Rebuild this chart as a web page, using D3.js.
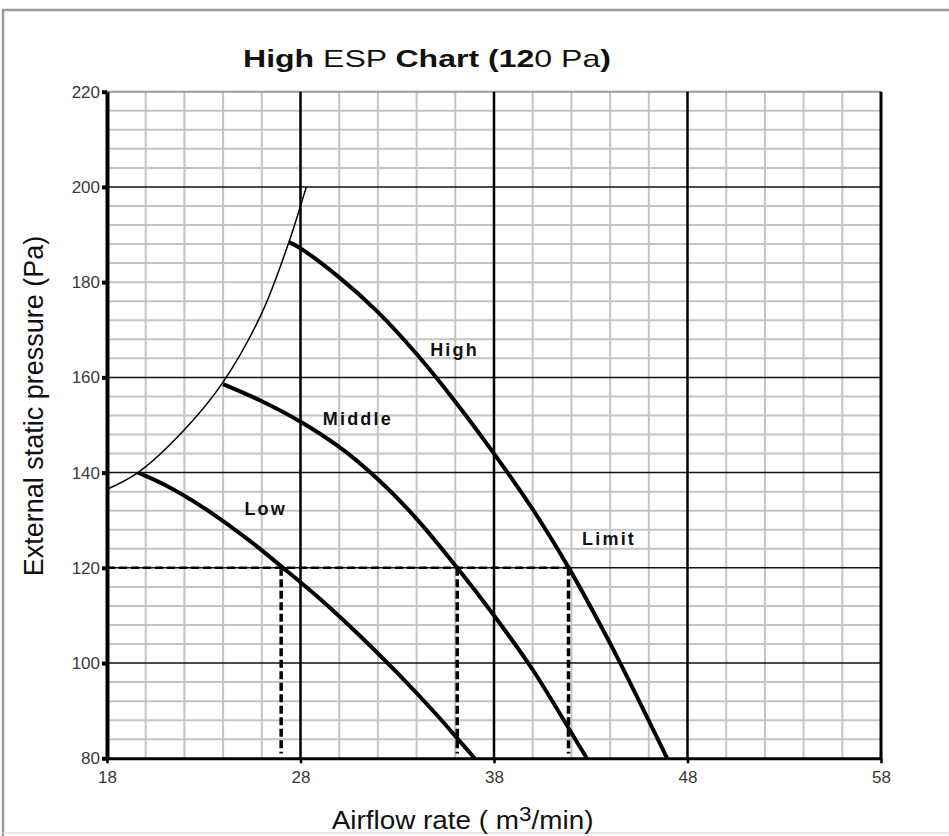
<!DOCTYPE html>
<html>
<head>
<meta charset="utf-8">
<script src="https://cdn.jsdelivr.net/npm/d3@7/dist/d3.min.js"></script>
<style>
  html, body { margin: 0; padding: 0; background: #fff; }
  svg { display: block; }
  text { font-family: "Liberation Sans", Arial, sans-serif; }
</style>
</head>
<body>
<svg id="chart" width="949" height="836"></svg>
<script>
// ---------------- data ----------------
const xTicks = [18, 28, 38, 48, 58];
const yTicks = [80, 100, 120, 140, 160, 180, 200, 220];
const yMajorLines = [100, 120, 140, 160, 200];

// fan operating boundary (thin line)
const boundaryX = [18, 19.6, 22, 24, 26, 27.4, 28, 28.3];
const boundaryY = [136.5, 140, 149, 159, 173.5, 188.4, 196, 200];

// fan curves
const lowX = [19.6, 21, 23, 25.4, 27.1, 29, 31, 33.1, 35, 36.25, 37];
const lowY = [140, 137.4, 132.6, 125.6, 120, 113.5, 106, 97.5, 89.3, 83.5, 80];

const midX = [24, 26, 28, 30, 32, 34, 36.1, 38, 40, 42.2, 42.8];
const midY = [158.6, 155, 150.7, 145.4, 138.6, 130.3, 120, 110, 98.6, 84, 80];

const highX = [27.4, 28, 30, 32, 34, 36, 38, 40, 41.85, 43.1, 44.4, 46.95];
const highY = [188.4, 187.1, 181, 173.7, 164.9, 154.9, 144, 132.3, 120.1, 111, 101, 80];

// ESP limit reference
const espLimit = 120;
const limitX = [27.0, 36.1, 41.85];
const limitBottom = 81;

// curve labels (data coordinates of text start / baseline)
const labelNames = ["Low", "Middle", "High", "Limit"];
const labelX = [25.1, 29.15, 34.7, 42.55];
const labelY = [131.1, 150.0, 164.5, 124.8];

// ---------------- chart ----------------
const svg = d3.select("#chart");
const x = d3.scaleLinear().domain([18, 58]).range([107, 881]);
const y = d3.scaleLinear().domain([80, 220]).range([758.3, 91.7]);

// frame
svg.append("path")
  .attr("d", "M3,836 L3,10 L949,10")
  .attr("fill", "none").attr("stroke", "#9a9a9a").attr("stroke-width", 2.5);
svg.append("line").attr("x1", 3).attr("x2", 949).attr("y1", 833).attr("y2", 833)
  .attr("stroke", "#e2e2e2").attr("stroke-width", 1.5);

// minor grid
const g = svg.append("g");
const minorX = d3.range(20, 58, 2).filter(v => (v - 18) % 10 !== 0);
const minorY = d3.range(84, 220, 4).filter(v => !yMajorLines.includes(v));
g.selectAll("line.mx").data(minorX).join("line")
  .attr("x1", d => x(d)).attr("x2", d => x(d))
  .attr("y1", y(220)).attr("y2", y(80))
  .attr("stroke", "#c4c4c4").attr("stroke-width", 2);
g.selectAll("line.my").data(minorY).join("line")
  .attr("y1", d => y(d)).attr("y2", d => y(d))
  .attr("x1", x(18)).attr("x2", x(58))
  .attr("stroke", "#c4c4c4").attr("stroke-width", 2);
// top border (gray)
g.append("line").attr("x1", x(18)).attr("x2", x(58)).attr("y1", y(220)).attr("y2", y(220))
  .attr("stroke", "#9a9a9a").attr("stroke-width", 2);
// major grid
g.selectAll("line.My").data(yMajorLines).join("line")
  .attr("y1", d => y(d)).attr("y2", d => y(d))
  .attr("x1", x(18)).attr("x2", x(58))
  .attr("stroke", "#111").attr("stroke-width", 1.5);
g.selectAll("line.Mx").data(xTicks.slice(1, -1)).join("line")
  .attr("x1", d => x(d)).attr("x2", d => x(d))
  .attr("y1", y(220)).attr("y2", y(80))
  .attr("stroke", "#000").attr("stroke-width", 2.5);
// right border
g.append("line").attr("x1", x(58)).attr("x2", x(58)).attr("y1", y(220)).attr("y2", y(80))
  .attr("stroke", "#000").attr("stroke-width", 3);

// curves
const line = d3.line().x(d => x(d[0])).y(d => y(d[1])).curve(d3.curveCatmullRom.alpha(0.5));
const zip = (a, b) => a.map((v, i) => [v, b[i]]);
svg.append("path").datum(zip(boundaryX, boundaryY)).attr("d", line)
  .attr("fill", "none").attr("stroke", "#000").attr("stroke-width", 1.5);
[[lowX, lowY], [midX, midY], [highX, highY]].forEach(([a, b]) => {
  svg.append("path").datum(zip(a, b)).attr("d", line)
    .attr("fill", "none").attr("stroke", "#000").attr("stroke-width", 4);
});

// dashed ESP limit lines
svg.append("line")
  .attr("x1", x(18)).attr("x2", x(d3.max(limitX)))
  .attr("y1", y(espLimit)).attr("y2", y(espLimit))
  .attr("stroke", "#000").attr("stroke-width", 2.5).attr("stroke-dasharray", "8,4");
svg.selectAll("line.lim").data(limitX).join("line")
  .attr("x1", d => x(d)).attr("x2", d => x(d))
  .attr("y1", y(espLimit)).attr("y2", y(limitBottom))
  .attr("stroke", "#000").attr("stroke-width", 3.5).attr("stroke-dasharray", "8,3.5");

// axes
const yAxis = d3.axisLeft(y).tickValues(yTicks).tickFormat(d3.format("d"))
  .tickSize(5).tickSizeOuter(0).tickPadding(2);
const ya = svg.append("g").attr("transform", `translate(${x(18)},0)`).call(yAxis);
ya.attr("font-size", null).attr("font-family", null);
ya.select(".domain").attr("stroke", "#000").attr("stroke-width", 4);
ya.selectAll(".tick line").attr("stroke", "#000").attr("stroke-width", 4);
ya.selectAll(".tick text").style("font-size", "17px").attr("fill", "#3a3a3a");

const xAxis = d3.axisBottom(x).tickValues(xTicks).tickFormat(d3.format("d"))
  .tickSize(5).tickSizeOuter(0).tickPadding(8);
const xa = svg.append("g").attr("transform", `translate(0,${y(80)})`).call(xAxis);
xa.attr("font-size", null).attr("font-family", null);
xa.select(".domain").attr("stroke", "#000").attr("stroke-width", 3);
xa.selectAll(".tick line").attr("stroke", "#000").attr("stroke-width", 2.5);
xa.selectAll(".tick text").style("font-size", "17px").attr("fill", "#3a3a3a");

// curve labels
svg.selectAll("text.lbl").data(labelNames).join("text")
  .attr("x", (d, i) => x(labelX[i])).attr("y", (d, i) => y(labelY[i]))
  .attr("font-size", 18).attr("font-weight", "bold").attr("letter-spacing", 2.2)
  .attr("fill", "#111").text(d => d);

// title with mixed weights
const title = svg.append("text").attr("font-size", 24).attr("fill", "#111");
[["High", "bold"], [" ESP ", "normal"], ["Chart (12", "bold"], ["0 Pa", "normal"], [")", "bold"]]
  .forEach(([t, w]) => title.append("tspan").attr("font-weight", w).text(t));
{
  const w = title.node().getComputedTextLength();
  const target = 368, left = 243;
  title.attr("transform", `translate(${left},66.7) scale(${target / w},1)`);
}

// y axis title
svg.append("text")
  .attr("transform", "translate(42.7,406) rotate(-90)")
  .attr("text-anchor", "middle").attr("font-size", 27).attr("fill", "#111")
  .text("External static pressure (Pa)");

// x axis title
const xt = svg.append("text").attr("font-size", 26).attr("fill", "#111");
xt.append("tspan").text("Airflow rate ( m");
xt.append("tspan").attr("font-size", 21).attr("dy", -8).text("3");
xt.append("tspan").attr("dy", 8).text("/min)");
{
  const w = xt.node().getComputedTextLength();
  xt.attr("transform", `translate(331.7,829) scale(${262 / w},1)`);
}
</script>
</body>
</html>
